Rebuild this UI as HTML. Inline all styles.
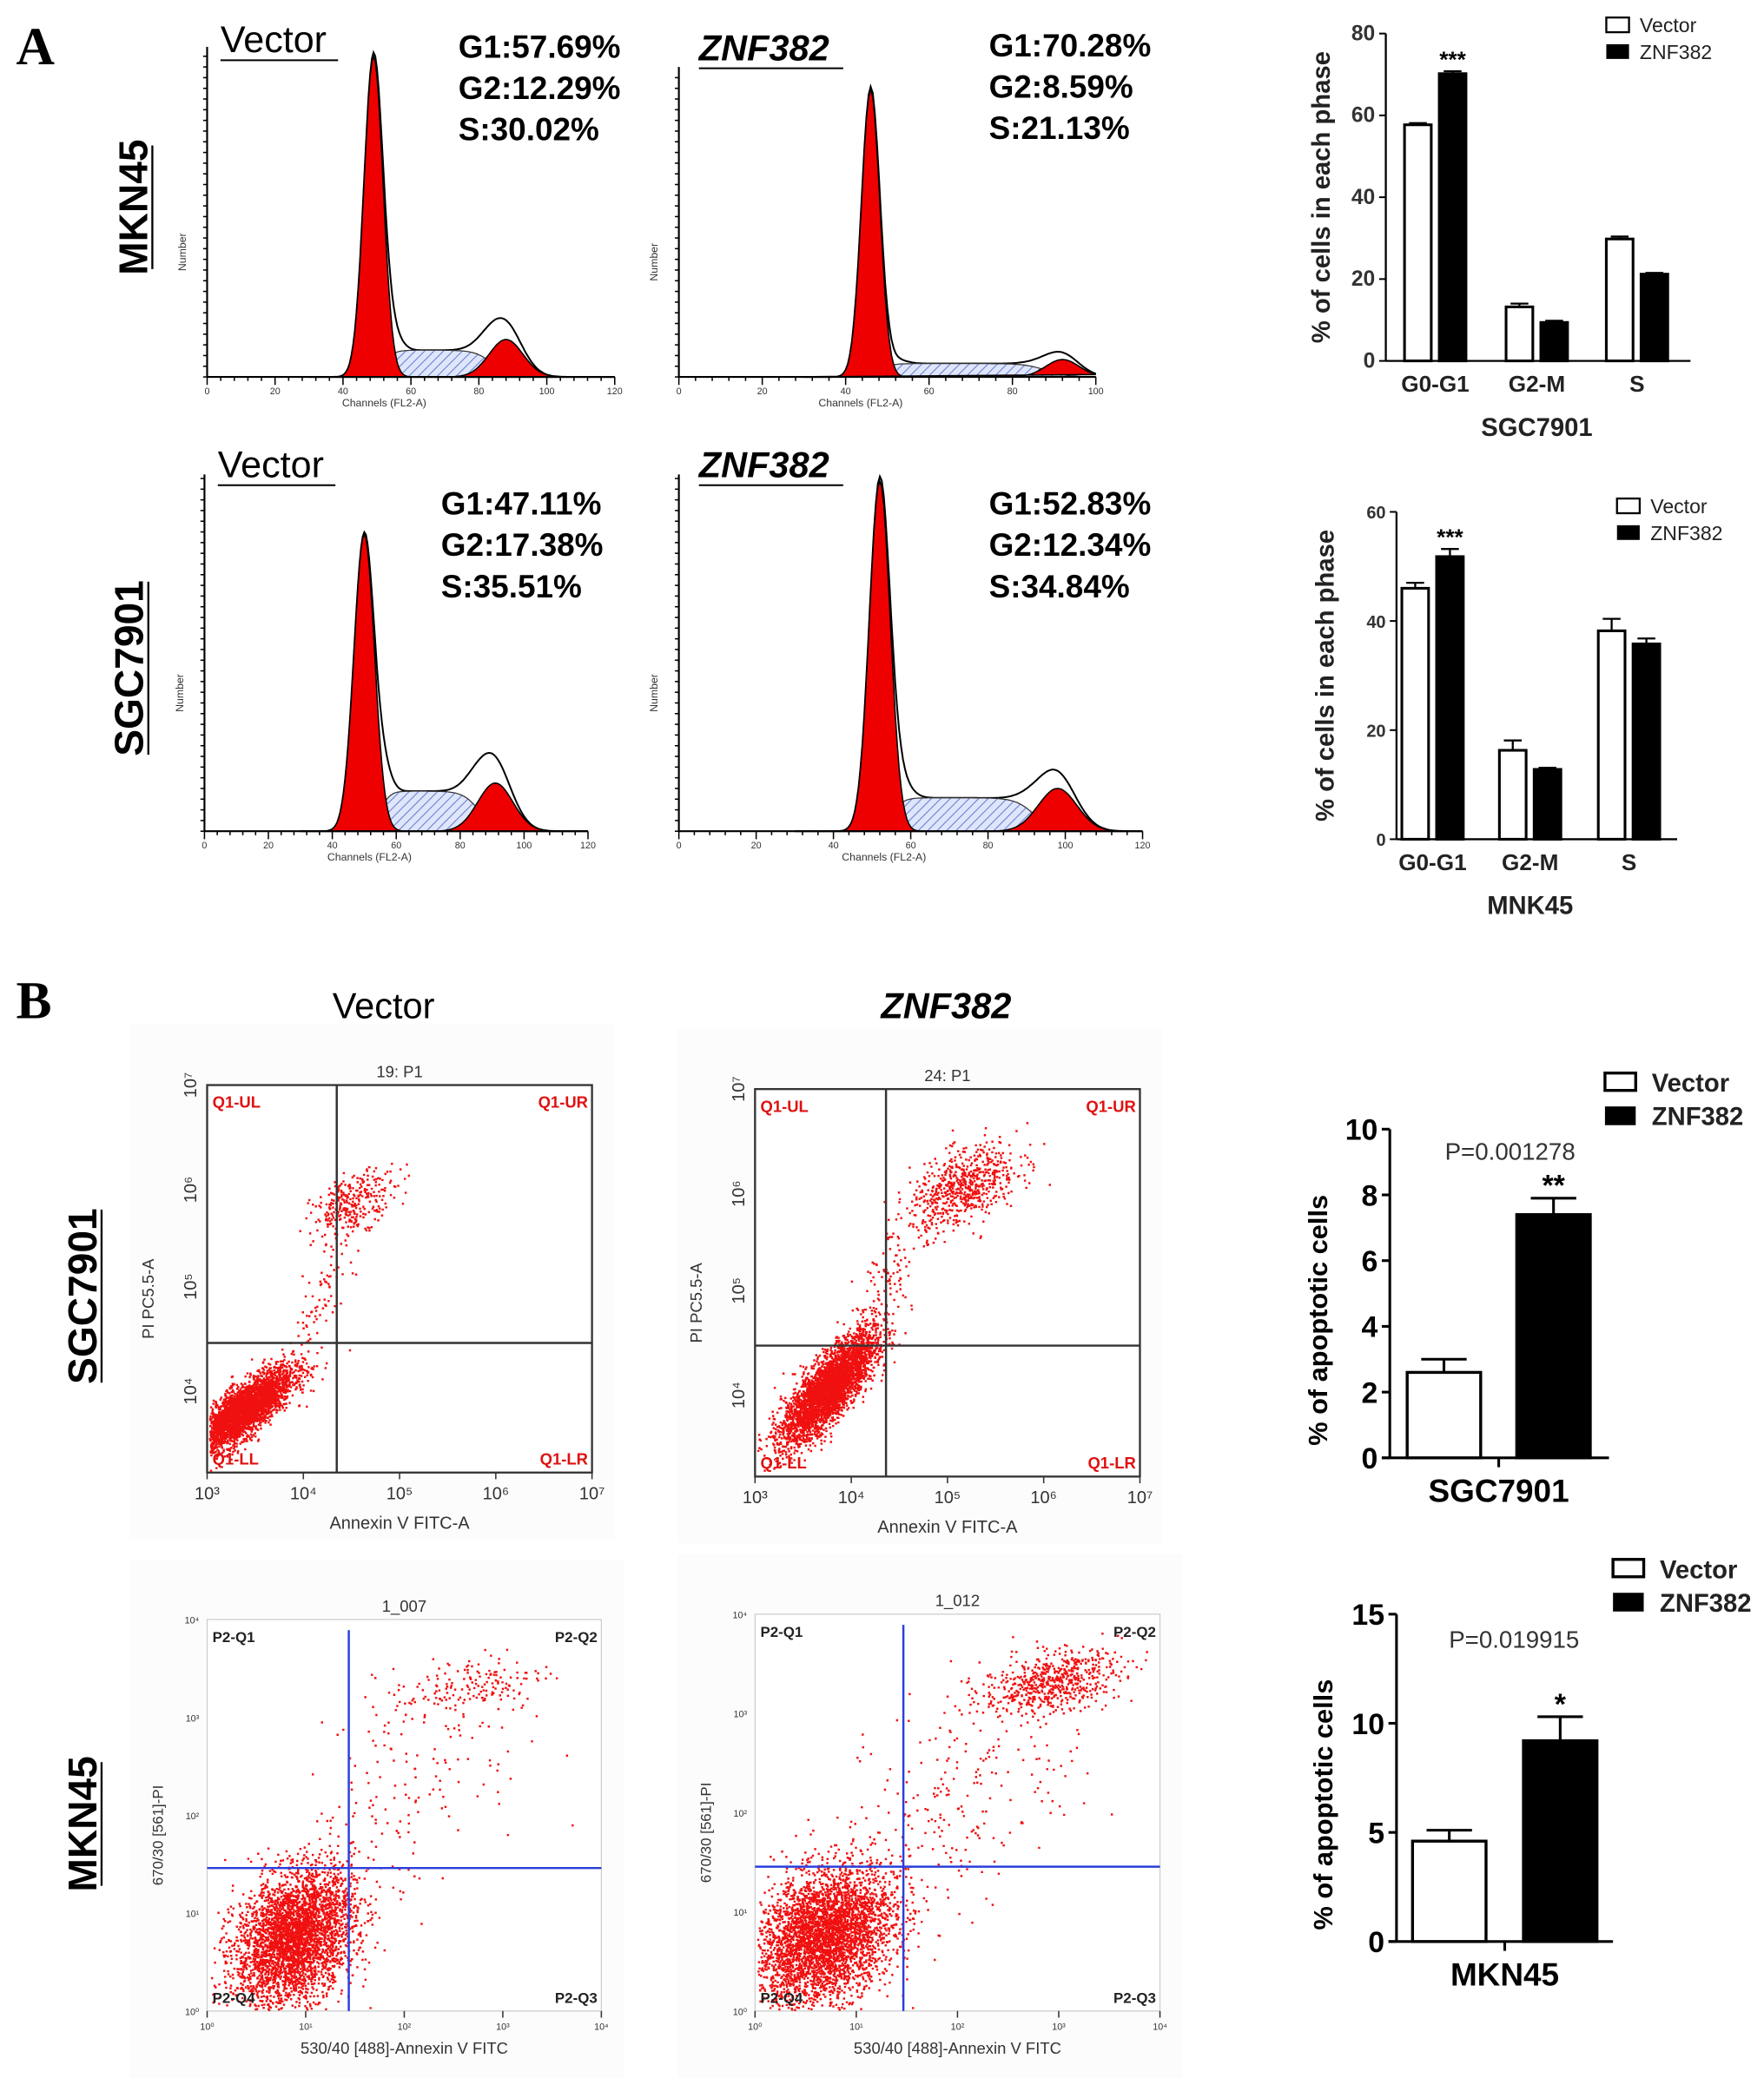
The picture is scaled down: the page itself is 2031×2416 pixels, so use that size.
<!DOCTYPE html>
<html><head><meta charset="utf-8"><style>
html,body{margin:0;padding:0;background:#fff;}
svg{display:block;}
text{font-family:"Liberation Sans",sans-serif;}
text.serif{font-family:"Liberation Serif",serif;}
</style></head><body>
<svg id="fig" width="2031" height="2416" viewBox="0 0 1320 1570" xmlns="http://www.w3.org/2000/svg">
<defs>
<pattern id="hatch" width="5" height="5" patternUnits="userSpaceOnUse" patternTransform="rotate(45)">
<rect width="5" height="5" fill="#dfe6fb"/><line x1="0" y1="0" x2="0" y2="5" stroke="#6a7fd0" stroke-width="1.4"/>
</pattern>
</defs>
<text class="serif" x="12" y="48" font-weight="bold" font-size="40">A</text>
<text class="serif" x="12" y="762" font-weight="bold" font-size="40">B</text>
<g id="hists"></g>
<g id="bars"></g>
<g id="scatters"></g>
</svg>
<script>
const NS="http://www.w3.org/2000/svg";
function mk(tag,attrs,parent,txt){const e=document.createElementNS(NS,tag);for(const k in attrs)e.setAttribute(k,attrs[k]);if(txt!==undefined)e.textContent=txt;parent.appendChild(e);return e;}
const svg=document.getElementById('fig');

/* ---------- Cell-cycle histogram data ---------- */
const histLabels=["Vector","ZNF382","Vector","ZNF382"];
const histPercents=[["G1:57.69%","G2:12.29%","S:30.02%"],["G1:70.28%","G2:8.59%","S:21.13%"],["G1:47.11%","G2:17.38%","S:35.51%"],["G1:52.83%","G2:12.34%","S:34.84%"]];
const histChannelMax=[120,100,120,120];
const g1Pos=[49,46,50,52];
const g1Height=[240,215,222,262];
const g1Sigma=[2.8,2.2,3.2,2.7];
const g2Pos=[88,92,91,98];
const g2Height=[28,13,36,32];
const g2Sigma=[5,4,5.5,5];
const sLevel=[20,10,30,25];
const sStart=[52,48,55,55];
const sEnd=[84,88,86,92];
const envExtra=[12,4,18,12];
/* layout */
const hx0=[155,508,153,508],hx1=[460,820,440,855],hbase=[282,282,622,622],htop=[35,50,355,355];

function histogram(i){
  const g=mk('g',{},document.getElementById('hists'));
  
  
  const cm=histChannelMax[i];
  const X=c=>hx0[i]+(hx1[i]-hx0[i])*c/cm;
  const B=hbase[i];
  const gauss=(c,p,h,s)=>h*Math.exp(-0.5*((c-p)/s)**2);
  const sfun=c=>{const a=1/(1+Math.exp(-(c-sStart[i])/1.5)),b=1/(1+Math.exp((c-sEnd[i])/2.5));return sLevel[i]*a*b;};
  let sPts=[],g1Pts=[],g2Pts=[],env=[];
  for(let c=30;c<=cm;c+=0.5){
    const s=sfun(c),a=gauss(c,g1Pos[i],g1Height[i],g1Sigma[i]),b=gauss(c,g2Pos[i],g2Height[i],g2Sigma[i]);
    sPts.push([X(c),B-s]);g1Pts.push([X(c),B-a]);g2Pts.push([X(c),B-b]);
    const e=gauss(c,g2Pos[i]-2,envExtra[i],5)+gauss(c,g1Pos[i]+6,envExtra[i]*0.8,2.5);
    env.push([X(c),B-(s+a+b+e)]);
  }
  const pth=pts=>'M'+pts.map(p=>p[0].toFixed(1)+','+p[1].toFixed(1)).join(' L')+' Z';
  const envEl=mk('path',{d:pth(env),fill:'#fff',stroke:'#000','stroke-width':1.3},g);
  
  const sEl=mk('path',{d:pth(sPts),fill:'url(#hatch)',stroke:'#333','stroke-width':0.8},g);
  
  const g1El=mk('path',{d:pth(g1Pts),fill:'#ee0000',stroke:'#000','stroke-width':1},g);
  
  const g2El=mk('path',{d:pth(g2Pts),fill:'#ee0000',stroke:'#000','stroke-width':1},g);
  
  mk('line',{x1:hx0[i],y1:B,x2:hx1[i],y2:B,stroke:'#000','stroke-width':1.4},g);
  mk('line',{x1:hx0[i],y1:B,x2:hx0[i],y2:htop[i],stroke:'#000','stroke-width':1.4},g);
  for(let c=0;c<=cm;c+=4){const x=X(c);mk('line',{x1:x,y1:B,x2:x,y2:B+(c%20==0?6:3),stroke:'#000','stroke-width':1},g);
    if(c%20==0){const t=mk('text',{x:x,y:B+13,'font-size':7,'text-anchor':'middle',fill:'#333'},g,String(c));}}
  for(let y=B;y>htop[i];y-=8){mk('line',{x1:hx0[i]-3,y1:y,x2:hx0[i],y2:y,stroke:'#000','stroke-width':1},g);}
  const xt=mk('text',{x:(hx0[i]+hx1[i])/2-20,y:B+22,'font-size':8,'text-anchor':'middle',fill:'#333'},g,'Channels  (FL2-A)');
  
  const yt=mk('text',{x:0,y:0,'font-size':8,'text-anchor':'middle',fill:'#333',transform:`translate(${hx0[i]-16},${(B+htop[i])/2+30}) rotate(-90)`},g,'Number');
  
  const isZ=histLabels[i]==='ZNF382';
  const lx=hx0[i]+(isZ?15:10), ly=htop[i]+(i<2?(isZ?-7:2):0)+2;
  const lab=mk('text',{x:lx,y:ly,'font-size':isZ?27:28,'font-weight':isZ?'bold':'normal','font-style':isZ?'italic':'normal'},g,histLabels[i]);
  
  mk('line',{x1:lx,y1:ly+6,x2:lx+(isZ?108:88),y2:ly+6,stroke:'#000','stroke-width':1.3},g);
  const px=[343,740,330,740][i],py=[43,42,385,385][i];
  histPercents[i].forEach((s,k)=>{const t=mk('text',{x:px,y:py+k*31,'font-size':24,'font-weight':'bold'},g,s);});
}
for(let i=0;i<4;i++)histogram(i);
function sideLabel(txt,x,y,name){const t=mk('text',{x:0,y:0,'font-size':30,'font-weight':'bold','text-anchor':'middle',transform:`translate(${x},${y}) rotate(-90)`},svg,txt);
 const w=txt.length*18.5;mk('line',{x1:x+4,y1:y-w/2,x2:x+4,y2:y+w/2,stroke:'#000','stroke-width':1.5},svg);}
sideLabel('MKN45',110,155,'row-label-mkn45');
sideLabel('SGC7901',107,500,'row-label-sgc7901');

/* ---------- Cell-cycle bar charts ---------- */
const phaseCats=["G0-G1","G2-M","S"];
const sgcVector=[57.7,13.2,29.8];
const sgcVectorErr=[0.4,0.8,0.6];
const sgcZnf=[70.2,9.4,21.2];
const sgcZnfErr=[0.6,0.4,0.3];
const mnkVector=[46,16.3,38.2];
const mnkVectorErr=[1.0,1.8,2.2];
const mnkZnf=[51.8,12.8,35.8];
const mnkZnfErr=[1.4,0.3,1.0];
const phaseTicks1=[0,20,40,60,80];
const phaseTicks2=[0,20,40,60];

function phaseChart(cfg){
  const g=mk('g',{},document.getElementById('bars'));
  
  const Y=v=>cfg.y0-(cfg.y0-cfg.y1)*v/cfg.max;
  mk('line',{x1:cfg.ax,y1:cfg.y0,x2:cfg.ax,y2:cfg.y1,stroke:'#000','stroke-width':1.5},g);
  mk('line',{x1:cfg.ax,y1:cfg.y0,x2:cfg.axEnd,y2:cfg.y0,stroke:'#000','stroke-width':1.5},g);
  cfg.ticks.forEach(v=>{mk('line',{x1:cfg.ax-5,y1:Y(v),x2:cfg.ax,y2:Y(v),stroke:'#000','stroke-width':1.3},g);
    const t=mk('text',{x:cfg.ax-8,y:Y(v)+5,'font-size':cfg.tfs,'font-weight':'bold','text-anchor':'end',fill:'#333'},g,String(v));});
  const bw=cfg.bw;
  phaseCats.forEach((c,k)=>{
    const cx=cfg.cx[k];
    [[cfg.v,cfg.ve,'#fff',cx-bw-3],[cfg.z,cfg.ze,'#000',cx+3]].forEach((d,j)=>{
      const x=d[3],v=d[0][k],e=d[1][k];
      const r=mk('rect',{x:x,y:Y(v),width:bw,height:cfg.y0-Y(v),fill:d[2],stroke:'#000','stroke-width':2},g);
      
      mk('line',{x1:x+bw/2,y1:Y(v),x2:x+bw/2,y2:Y(v+e),stroke:'#000','stroke-width':1.5},g);
      mk('line',{x1:x+bw/2-bw/3,y1:Y(v+e),x2:x+bw/2+bw/3,y2:Y(v+e),stroke:'#000','stroke-width':1.5},g);
    });
    const t=mk('text',{x:cx,y:cfg.y0+23,'font-size':17,'font-weight':'bold','text-anchor':'middle',fill:'#222'},g,c);
  });
  const st=mk('text',{x:cfg.cx[0]+bw/2+3,y:Y(cfg.z[0]+cfg.ze[0])-3,'font-size':17,'font-weight':'bold','text-anchor':'middle'},g,'***');
  const tt=mk('text',{x:cfg.titleX,y:cfg.y0+56,'font-size':19,'font-weight':'bold','text-anchor':'middle',fill:'#222'},g,cfg.title);
  const yl=mk('text',{x:0,y:0,'font-size':19,'font-weight':'bold','text-anchor':'middle',fill:'#222',transform:`translate(${cfg.ylx},${(cfg.y0+cfg.y1)/2}) rotate(-90)`},g,'% of cells in each phase');
  const lg=mk('g',{},g);
  mk('rect',{x:cfg.lx,y:cfg.ly-11,width:17,height:11,fill:'#fff',stroke:'#000','stroke-width':1.5},lg);
  mk('rect',{x:cfg.lx,y:cfg.ly+9,width:17,height:11,fill:'#000'},lg);
  const l1=mk('text',{x:cfg.lx+25,y:cfg.ly,'font-size':15,fill:'#222'},lg,'Vector');
  const l2=mk('text',{x:cfg.lx+25,y:cfg.ly+20,'font-size':15,fill:'#222'},lg,'ZNF382');
}
phaseChart({name:'cell-cycle-bar-sgc7901',ax:1037,axEnd:1265,y0:270,y1:25,max:80,ticks:phaseTicks1,tfs:16,cx:[1074,1150,1225],bw:20,v:sgcVector,ve:sgcVectorErr,z:sgcZnf,ze:sgcZnfErr,title:'SGC7901',titleX:1150,ylx:995,lx:1202,ly:24});
phaseChart({name:'cell-cycle-bar-mnk45',ax:1045,axEnd:1255,y0:628,y1:383,max:60,ticks:phaseTicks2,tfs:13,cx:[1072,1145,1219],bw:20,v:mnkVector,ve:mnkVectorErr,z:mnkZnf,ze:mnkZnfErr,title:'MNK45',titleX:1145,ylx:998,lx:1210,ly:384});

/* ---------- Apoptosis bar charts ---------- */
const apopGroups=["Vector","ZNF382"];
const apopSgc=[2.6,7.4];
const apopSgcErr=[0.4,0.5];
const apopMkn=[4.6,9.2];
const apopMknErr=[0.5,1.1];
const apopTicks1=[0,2,4,6,8,10];
const apopTicks2=[0,5,10,15];
function apopChart(cfg){
  const g=mk('g',{},document.getElementById('bars'));
  
  const Y=v=>cfg.y0-(cfg.y0-cfg.y1)*v/cfg.max;
  mk('line',{x1:cfg.ax,y1:cfg.y0,x2:cfg.ax,y2:cfg.y1,stroke:'#000','stroke-width':2},g);
  mk('line',{x1:cfg.ax-6,y1:cfg.y0,x2:cfg.axEnd,y2:cfg.y0,stroke:'#000','stroke-width':2},g);
  mk('line',{x1:(cfg.xs[0]+cfg.xs[1]+cfg.bw)/2,y1:cfg.y0,x2:(cfg.xs[0]+cfg.xs[1]+cfg.bw)/2,y2:cfg.y0+7,stroke:'#000','stroke-width':2},g);
  cfg.ticks.forEach(v=>{mk('line',{x1:cfg.ax-6,y1:Y(v),x2:cfg.ax,y2:Y(v),stroke:'#000','stroke-width':2},g);
    const t=mk('text',{x:cfg.ax-9,y:Y(v)+8,'font-size':22,'font-weight':'bold','text-anchor':'end'},g,String(v));});
  apopGroups.forEach((n,k)=>{
    const x=cfg.xs[k],v=cfg.v[k],e=cfg.e[k];
    const r=mk('rect',{x:x,y:Y(v),width:cfg.bw,height:cfg.y0-Y(v),fill:k?'#000':'#fff',stroke:'#000','stroke-width':2.2},g);
    
    mk('line',{x1:x+cfg.bw/2,y1:Y(v),x2:x+cfg.bw/2,y2:Y(v+e),stroke:'#000','stroke-width':2},g);
    mk('line',{x1:x+cfg.bw/2-17,y1:Y(v+e),x2:x+cfg.bw/2+17,y2:Y(v+e),stroke:'#000','stroke-width':2},g);
  });
  const st=mk('text',{x:cfg.xs[1]+cfg.bw/2,y:Y(cfg.v[1]+cfg.e[1])-2,'font-size':22,'font-weight':'bold','text-anchor':'middle'},g,cfg.star);
  const p=mk('text',{x:cfg.px,y:cfg.py,'font-size':18,'text-anchor':'middle',fill:'#333'},g,cfg.p);
  const tt=mk('text',{x:(cfg.xs[0]+cfg.xs[1]+cfg.bw)/2,y:cfg.y0+33,'font-size':24,'font-weight':'bold','text-anchor':'middle'},g,cfg.title);
  const yl=mk('text',{x:0,y:0,'font-size':20,'font-weight':'bold','text-anchor':'middle',transform:`translate(${cfg.ylx},${(cfg.y0+cfg.y1)/2+20}) rotate(-90)`},g,'% of apoptotic cells');
  const lg=mk('g',{},g);
  mk('rect',{x:cfg.lx,y:cfg.ly-14,width:23,height:13,fill:'#fff',stroke:'#000','stroke-width':2.2},lg);
  mk('rect',{x:cfg.lx,y:cfg.ly+11,width:23,height:14,fill:'#000'},lg);
  const l1=mk('text',{x:cfg.lx+35,y:cfg.ly,'font-size':19,'font-weight':'bold',fill:'#222'},lg,'Vector');
  const l2=mk('text',{x:cfg.lx+35,y:cfg.ly+25,'font-size':19,'font-weight':'bold',fill:'#222'},lg,'ZNF382');
}
apopChart({name:'apoptosis-bar-sgc7901',ax:1040,axEnd:1204,y0:1091,y1:845,max:10,ticks:apopTicks1,xs:[1053,1135],bw:55,v:apopSgc,e:apopSgcErr,star:'**',p:'P=0.001278',px:1130,py:868,title:'SGC7901',ylx:993,lx:1201,ly:817});
apopChart({name:'apoptosis-bar-mkn45',ax:1045,axEnd:1207,y0:1453,y1:1208,max:15,ticks:apopTicks2,xs:[1057,1140],bw:55,v:apopMkn,e:apopMknErr,star:'*',p:'P=0.019915',px:1133,py:1233,title:'MKN45',ylx:997,lx:1207,ly:1181});

/* ---------- Apoptosis flow scatter plots ---------- */
const clusterCx=[[0.09,0.38,0.30],[0.19,0.54,0.33],[0.22,0.66,0.50],[0.17,0.73,0.50]];
const clusterCy=[[0.84,0.30,0.52],[0.77,0.25,0.52],[0.81,0.17,0.45],[0.81,0.17,0.45]];
const clusterSx=[[0.065,0.055,0.04],[0.06,0.07,0.05],[0.075,0.10,0.15],[0.085,0.085,0.16]];
const clusterSy=[[0.055,0.04,0.10],[0.07,0.055,0.10],[0.085,0.045,0.16],[0.085,0.04,0.16]];
const clusterRho=[[0.8,0.5,0.7],[0.8,0.5,0.7],[0.3,0.4,0.5],[0.3,0.4,0.5]];
const clusterN=[[3500,300,80],[3800,650,120],[3600,180,150],[3800,600,260]];
const scTitles=["19: P1","24: P1","1_007","1_012"];
const scX0=[155,565,155,565],scX1=[443,853,450,868],scY0=[812,815,1212,1208],scY1=[1102,1105,1505,1505];
const gateX=[252,663,261,676],gateY=[1005,1007,1398,1397];
let seed=12345;function rnd(){seed=(seed*1103515245+12345)%2147483648;return seed/2147483648;}
function gn(){let u=rnd()||1e-6,v=rnd();return Math.sqrt(-2*Math.log(u))*Math.cos(2*Math.PI*v);}
function scatter(i){
  const g=mk('g',{},document.getElementById('scatters'));
  
  const bx=scX0[i]-58,by=scY0[i]-45,bw=scX1[i]-scX0[i]+75,bh=scY1[i]-scY0[i]+95;
  mk('rect',{x:bx,y:by,width:bw,height:bh,fill:'#fcfcfc'},g);
  const W=scX1[i]-scX0[i],H=scY1[i]-scY0[i];
  const blue=i>=2;
  mk('rect',{x:scX0[i],y:scY0[i],width:W,height:H,fill:'#fff',stroke:blue?'#ccc':'#333','stroke-width':blue?0.8:1.5},g);
  let d='';
  for(let c=0;c<3;c++){for(let n=0;n<clusterN[i][c];n++){
    const a=gn(),b=gn(),r=clusterRho[i][c];
    const fx=clusterCx[i][c]+clusterSx[i][c]*a, fy=clusterCy[i][c]-clusterSy[i][c]*(r*a+Math.sqrt(1-r*r)*b);
    if(fx<0.005||fx>0.995||fy<0.005||fy>0.995)continue;
    const x=scX0[i]+fx*W,y=scY0[i]+fy*H;
    d+=`M${x.toFixed(1)},${y.toFixed(1)}h1.6v1.6h-1.6z`;
  }}
  const pts=mk('path',{d:d,fill:'#f01010'},g);
  
  const col=blue?'#2a3fdc':'#333';
  const gx=mk('line',{x1:gateX[i],y1:scY0[i]+(blue?8:0),x2:gateX[i],y2:scY1[i],stroke:col,'stroke-width':1.6},g);
  
  const gy=mk('line',{x1:scX0[i],y1:gateY[i],x2:scX1[i],y2:gateY[i],stroke:col,'stroke-width':1.6},g);
  
  const t=mk('text',{x:(scX0[i]+scX1[i])/2,y:scY0[i]-6,'font-size':12,'text-anchor':'middle',fill:'#333'},g,scTitles[i]);
  const q=blue?['P2-Q1','P2-Q2','P2-Q4','P2-Q3']:['Q1-UL','Q1-UR','Q1-LL','Q1-LR'];
  const qc=blue?'#222':'#e01010';
  [[scX0[i]+4,scY0[i]+17,'start'],[scX1[i]-3,scY0[i]+17,'end'],[scX0[i]+4,scY1[i]-6,'start'],[scX1[i]-3,scY1[i]-6,'end']].forEach((p,k)=>{
    const e=mk('text',{x:p[0],y:p[1],'font-size':blue?11:12,'font-weight':'bold','text-anchor':p[2],fill:qc},g,q[k]);});
  for(let k=0;k<=4;k++){const x=scX0[i]+W*k/4;mk('line',{x1:x,y1:scY1[i],x2:x,y2:scY1[i]+5,stroke:'#333'},g);
    const e=mk('text',{x:x,y:scY1[i]+(blue?14:20),'font-size':blue?7:13,'text-anchor':'middle',fill:'#333'},g,blue?'10'+'⁰¹²³⁴'[k]:'10'+'³⁴⁵⁶⁷'[k]);}
  const xl=mk('text',{x:(scX0[i]+scX1[i])/2,y:scY1[i]+(blue?32:42),'font-size':blue?12:13,'text-anchor':'middle',fill:'#333'},g,blue?'530/40 [488]-Annexin V FITC':'Annexin V FITC-A');
  
  const yl=mk('text',{x:0,y:0,'font-size':blue?11:12,'text-anchor':'middle',fill:'#333',transform:`translate(${scX0[i]-(blue?33:40)},${(scY0[i]+scY1[i])/2+15}) rotate(-90)`},g,blue?'670/30 [561]-PI':'PI PC5.5-A');
  
  if(!blue){[['10⁷',0],['10⁶',0.27],['10⁵',0.52],['10⁴',0.79]].forEach(p=>{const e=mk('text',{x:0,y:0,'font-size':13,'text-anchor':'middle',fill:'#333',transform:`translate(${scX0[i]-8},${scY0[i]+p[1]*H}) rotate(-90)`},g,p[0]);});}
  else{for(let k=0;k<=4;k++){const e=mk('text',{x:scX0[i]-6,y:scY1[i]-H*k/4+3,'font-size':7,'text-anchor':'end',fill:'#333'},g,'10'+'⁰¹²³⁴'[k]);}}
}
for(let i=0;i<4;i++)scatter(i);
const vh=mk('text',{x:287,y:762,'font-size':27,'text-anchor':'middle'},svg,'Vector');
const zh=mk('text',{x:708,y:762,'font-size':27,'font-weight':'bold','font-style':'italic','text-anchor':'middle'},svg,'ZNF382');
sideLabel('SGC7901',72,970,'row-label-sgc7901-b');
sideLabel('MKN45',72,1365,'row-label-mkn45-b');
</script>
</body></html>
